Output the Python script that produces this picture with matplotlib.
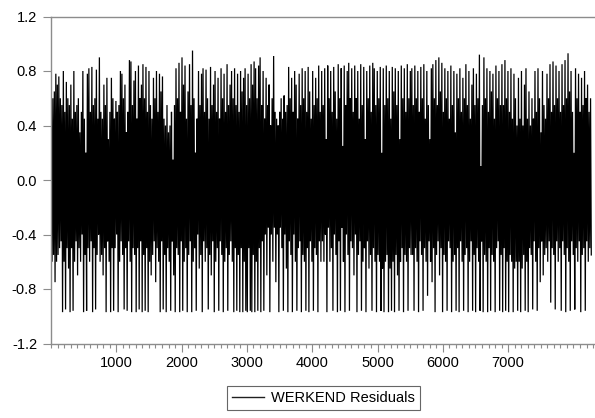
import numpy as np
import matplotlib
matplotlib.use("Agg")
import matplotlib.pyplot as plt
from matplotlib.ticker import MultipleLocator, FixedLocator, FormatStrFormatter

# WERKEND residuals, summarised as the highest and lowest residual
# inside consecutive blocks of observations (23 observations per block).
obs_per_block = 23
n_obs = 8280

block_max = [
    # obs 1 - 1380
    .55, .60, .65, .78, .70, .76, .60, .55, .80, .50,
    .72, .60, .55, .70, .45, .80, .50, .55, .60, .35,
    .50, .80, .45, .20, .78, .82, .50, .83, .55, .60,
    .81, .45, .90, .50, .45, .70, .55, .75, .30, .50,
    .75, .60, .45, .58, .50, .55, .80, .78, .60, .70,
    .35, .50, .88, .87, .55, .73, .80, .45, .84, .60,
    # obs 1381 - 2760
    .70, .85, .60, .83, .50, .80, .55, .45, .75, .60,
    .80, .50, .78, .65, .76, .45, .40, .55, .35, .40,
    .50, .15, .55, .82, .60, .86, .50, .90, .70, .84,
    .45, .65, .85, .55, .95, .60, .20, .45, .80, .55,
    .78, .82, .50, .81, .60, .45, .83, .55, .70, .80,
    .50, .75, .45, .82, .60, .78, .50, .85, .55, .70,
    # obs 2761 - 4140
    .80, .60, .82, .55, .78, .50, .80, .65, .75, .82,
    .55, .78, .60, .85, .70, .87, .82, .60, .84, .90,
    .55, .80, .45, .75, .55, .70, .40, .60, .91, .50,
    .45, .40, .50, .60, .45, .62, .50, .55, .83, .60,
    .75, .50, .80, .70, .45, .78, .55, .82, .60, .80,
    .50, .83, .65, .45, .80, .55, .75, .60, .84, .50,
    # obs 4141 - 5520
    .80, .55, .82, .30, .84, .60, .80, .50, .83, .65,
    .45, .85, .60, .82, .25, .84, .55, .80, .86, .60,
    .82, .50, .84, .60, .80, .45, .85, .55, .83, .30,
    .80, .60, .84, .50, .86, .82, .55, .80, .60, .83,
    .20, .82, .55, .84, .60, .80, .45, .83, .65, .82,
    .55, .80, .30, .84, .60, .82, .50, .85, .60, .80,
    # obs 5521 - 6900
    .82, .55, .84, .60, .80, .50, .83, .60, .85, .45,
    .80, .55, .30, .82, .85, .60, .88, .55, .90, .65,
    .86, .50, .82, .60, .80, .45, .84, .55, .80, .35,
    .78, .60, .82, .50, .75, .60, .85, .55, .80, .45,
    .70, .82, .55, .78, .60, .92, .10, .55, .90, .60,
    .82, .50, .80, .65, .78, .45, .84, .60, .80, .55,
    # obs 6901 - 8280
    .85, .55, .88, .60, .80, .50, .82, .45, .78, .60,
    .40, .75, .45, .80, .40, .70, .82, .45, .65, .40,
    .60, .45, .80, .50, .82, .60, .35, .80, .55, .45,
    .78, .60, .85, .50, .87, .55, .84, .60, .80, .50,
    .85, .55, .88, .60, .93, .65, .80, .50, .20, .82,
    .60, .78, .50, .75, .55, .80, .60, .70, .50, .60,
]

block_min = [
    # obs 1 - 1380
    -.60, -.55, -.75, -.60, -.55, -.50, -.45, -.97, -.60, -.95,
    -.50, -.65, -.97, -.50, -.96, -.60, -.45, -.70, -.50, -.60,
    -.40, -.97, -.55, -.96, -.50, -.60, -.45, -.97, -.50, -.95,
    -.55, -.40, -.60, -.55, -.70, -.50, -.97, -.45, -.60, -.97,
    -.50, -.96, -.50, -.40, -.97, -.60, -.45, -.55, -.95, -.50,
    -.96, -.45, -.60, -.97, -.50, -.55, -.97, -.50, -.95, -.45,
    # obs 1381 - 2760
    -.97, -.55, -.96, -.50, -.97, -.60, -.70, -.55, -.45, -.75,
    -.50, -.60, -.97, -.45, -.95, -.55, -.97, -.50, -.60, -.96,
    -.45, -.70, -.97, -.50, -.55, -.97, -.45, -.96, -.60, -.50,
    -.97, -.55, -.45, -.97, -.60, -.50, -.96, -.40, -.65, -.55,
    -.97, -.45, -.60, -.50, -.95, -.55, -.70, -.45, -.97, -.60,
    -.50, -.96, -.45, -.55, -.97, -.60, -.50, -.96, -.55, -.45,
    # obs 2761 - 4140
    -.60, -.97, -.50, -.96, -.55, -.97, -.50, -.97, -.60, -.96,
    -.97, -.50, -.96, -.97, -.55, -.97, -.60, -.96, -.50, -.97,
    -.45, -.96, -.40, -.70, -.35, -.97, -.40, -.60, -.35, -.75,
    -.40, -.97, -.35, -.50, -.96, -.40, -.65, -.97, -.45, -.55,
    -.97, -.40, -.60, -.96, -.50, -.45, -.97, -.55, -.60, -.96,
    -.50, -.97, -.45, -.60, -.96, -.50, -.55, -.97, -.45, -.60,
    # obs 4141 - 5520
    -.45, -.60, -.40, -.97, -.35, -.60, -.50, -.96, -.40, -.55,
    -.97, -.45, -.96, -.35, -.60, -.97, -.40, -.55, -.96, -.45,
    -.50, -.70, -.40, -.97, -.55, -.45, -.96, -.60, -.50, -.97,
    -.45, -.65, -.55, -.96, -.50, -.60, -.97, -.55, -.60, -.96,
    -.65, -.97, -.60, -.55, -.97, -.65, -.96, -.60, -.97, -.55,
    -.70, -.96, -.60, -.50, -.97, -.55, -.60, -.96, -.50, -.55,
    # obs 5521 - 6900
    -.55, -.96, -.50, -.60, -.97, -.45, -.55, -.96, -.50, -.60,
    -.85, -.45, -.60, -.75, -.50, -.97, -.55, -.45, -.70, -.50,
    -.97, -.55, -.60, -.96, -.45, -.50, -.97, -.60, -.55, -.96,
    -.50, -.97, -.45, -.60, -.96, -.55, -.50, -.97, -.60, -.45,
    -.96, -.55, -.97, -.50, -.60, -.96, -.45, -.97, -.55, -.60,
    -.97, -.50, -.96, -.55, -.60, -.97, -.50, -.45, -.96, -.55,
    # obs 6901 - 8280
    -.97, -.50, -.96, -.60, -.97, -.55, -.60, -.97, -.65, -.60,
    -.96, -.60, -.97, -.65, -.55, -.96, -.60, -.97, -.50, -.55,
    -.95, -.45, -.60, -.96, -.50, -.75, -.45, -.70, -.55, -.50,
    -.60, -.45, -.90, -.50, -.55, -.95, -.45, -.60, -.50, -.96,
    -.45, -.55, -.97, -.50, -.60, -.96, -.45, -.55, -.95, -.50,
    -.60, -.45, -.97, -.55, -.50, -.96, -.45, -.60, -.50, -.55,
]

y_ticks = [-1.2, -0.8, -0.4, 0.0, 0.4, 0.8, 1.2]
x_ticks = [1000, 2000, 3000, 4000, 5000, 6000, 7000]
series_label = "WERKEND Residuals"

# each block is drawn as its high point followed by its low point
hi = np.asarray(block_max)
lo = np.asarray(block_min)
start = np.arange(len(hi)) * obs_per_block + 1
x = np.column_stack([start + 4, start + 15]).ravel()
y = np.column_stack([hi, lo]).ravel()

plt.rcParams["font.family"] = ["Liberation Sans", "DejaVu Sans"]
axis_grey = "#8c8c8c"

fig = plt.figure(figsize=(5.95, 4.18), dpi=100)
ax = fig.add_axes([51 / 595, 1 - 343.5 / 418, 1 - 51 / 595, 327 / 418])

line, = ax.plot(x, y, color="black", linewidth=0.9, solid_joinstyle="miter")

ax.set_xlim(0, 8330)
ax.set_ylim(-1.2, 1.2)
ax.yaxis.set_major_locator(FixedLocator(y_ticks))
ax.yaxis.set_major_formatter(FormatStrFormatter("%.1f"))
ax.xaxis.set_major_locator(FixedLocator(x_ticks))
ax.xaxis.set_minor_locator(MultipleLocator(100))

for side in ("left", "bottom", "top"):
    ax.spines[side].set_color(axis_grey)
    ax.spines[side].set_linewidth(1.0)
ax.spines["right"].set_visible(False)

ax.tick_params(axis="both", which="both", direction="out", color=axis_grey,
               labelsize=10.5, labelcolor="black", width=0.8)
ax.tick_params(axis="y", which="major", length=6, pad=4)
ax.tick_params(axis="x", which="major", length=6, pad=3)
ax.tick_params(axis="x", which="minor", length=3)
ax.tick_params(top=False, right=False, which="both")

leg = fig.legend([line], [series_label], loc="center",
                 bbox_to_anchor=(323.5 / 595, 1 - 398 / 418),
                 fontsize=10.5, frameon=True, fancybox=False,
                 handlelength=2.2, handletextpad=0.5, borderpad=0.35,
                 borderaxespad=0)
leg.get_frame().set_edgecolor("#404040")
leg.get_frame().set_linewidth(0.8)
leg.get_lines()[0].set_color("#202020")
leg.get_lines()[0].set_linewidth(1.0)

fig.savefig("out.png", dpi=100)
